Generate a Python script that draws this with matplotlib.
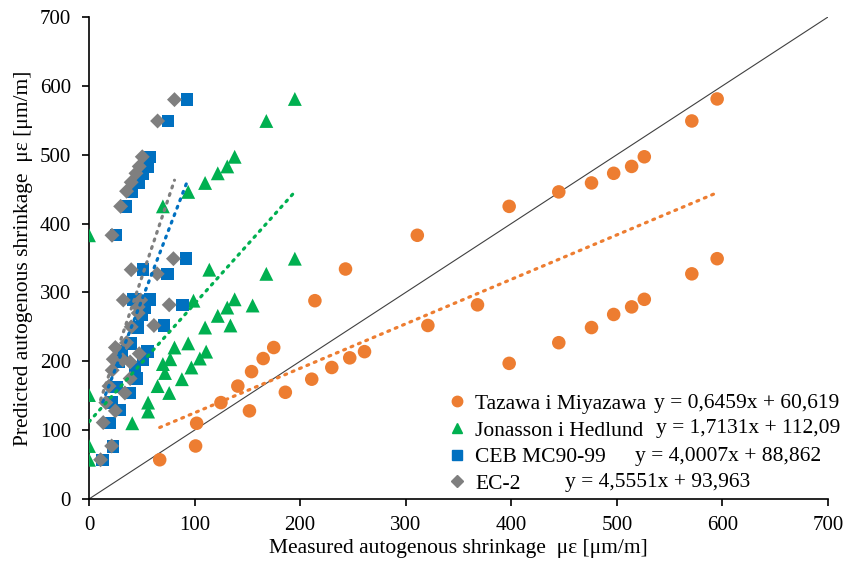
import matplotlib
matplotlib.use("Agg")
import matplotlib.pyplot as plt
from matplotlib.lines import Line2D
import numpy as np

plt.rcParams['font.family'] = ['Liberation Serif', 'DejaVu Serif']

# series names and trendline labels
names = ['Tazawa i Miyazawa', 'Jonasson i Hedlund', 'CEB MC90-99', 'EC-2']
equations = ['y = 0,6459x + 60,619', 'y = 1,7131x + 112,09',
             'y = 4,0007x + 88,862', 'y = 4,5551x + 93,963']
slopes = [0.6459, 1.7131, 4.0007, 4.5551]
intercepts = [60.619, 112.09, 88.862, 93.963]

# Tazawa i Miyazawa
taz_x = [67, 101, 102, 125, 141, 152, 154, 165, 175, 186, 211, 214, 230, 243, 247,
         261, 311, 321, 368, 398, 398, 445, 445, 476, 476, 497, 497, 514, 514,
         526, 526, 571, 571, 595, 595]
taz_y = [57, 77, 110, 140, 164, 128, 185, 204, 220, 155, 174, 288, 191, 334, 205,
         214, 383, 252, 282, 425, 197, 446, 227, 459, 249, 473, 268, 483, 279,
         497, 290, 549, 327, 581, 349]

# Jonasson i Hedlund
jon_x = [0, 0, 0, 41, 56, 56, 65, 76, 72, 70, 77, 81, 88, 94, 97, 105, 111, 110,
         122, 131, 134, 138, 155, 99, 114, 168, 195, 0, 70, 94, 110, 122, 131,
         138, 168, 195]
jon_y = [57, 77, 151, 110, 127, 140, 164, 154, 183, 196, 203, 220, 174, 226, 191,
         204, 214, 249, 266, 278, 252, 290, 281, 288, 333, 327, 349, 383, 425,
         446, 459, 473, 483, 497, 549, 581]

# CEB MC90-99
ceb_x = [13, 23, 19.5, 29, 22, 39, 26, 45, 43.5, 28.7, 51, 31, 55.5, 40, 46.6, 71,
         50.5, 53, 88.6, 42, 58, 51, 74.5, 92, 25.5, 35, 41, 47, 51, 55.5, 58,
         75, 93]
ceb_y = [57, 76, 110, 129, 140, 154, 163, 175, 192, 199, 202, 214, 214, 226, 249,
         252, 267, 277, 282, 290, 290, 333, 327, 349, 383, 425, 446, 459, 473,
         483, 497, 549, 580]

# EC-2
ec_x = [11, 21.5, 13.5, 25, 16, 34, 19, 39, 22, 39, 32, 23, 47.6, 25, 35.6, 40,
        61.5, 46.6, 46.6, 76, 32.5, 49, 40, 64.6, 80, 21.8, 30, 35.6, 40, 44.5,
        47.6, 50.5, 65, 81]
ec_y = [57, 77, 111, 128, 140, 154, 164, 175, 187, 199, 202, 203, 211, 220, 227,
        250, 252, 270, 279, 282, 289, 289, 333, 327, 349, 383, 425, 447, 460,
        473, 483, 497, 549, 580]

xs = [taz_x, jon_x, ceb_x, ec_x]
ys = [taz_y, jon_y, ceb_y, ec_y]
colors = ['#ED7D31', '#00B050', '#0070C0', '#7F7F7F']
markers = ['o', '^', 's', 'D']
sizes = [95, 100, 80, 58]

fig = plt.figure(figsize=(8.53, 5.61), dpi=100)
ax = fig.add_axes([0.1043, 0.1105, 0.8664, 0.8592])

# 1:1 line
ax.plot([0, 700], [0, 700], color='#404040', lw=0.8, zorder=1)

for i in range(4):
    ax.scatter(xs[i], ys[i], s=sizes[i], marker=markers[i], color=colors[i],
               edgecolors='none', zorder=3 + i)

# linear trendlines from the labels
for i in range(4):
    xt = np.array([min(xs[i]), max(xs[i])])
    ax.plot(xt, slopes[i] * xt + intercepts[i], color=colors[i], lw=2.3,
            linestyle=(0, (0.6, 1.9)), dash_capstyle='round', zorder=10)

ax.set_xlim(0, 700)
ax.set_ylim(0, 700)
ax.set_xticks(np.arange(0, 701, 100))
ax.set_yticks(np.arange(0, 701, 100))
ax.spines['top'].set_visible(False)
ax.spines['right'].set_visible(False)
for s in ['left', 'bottom']:
    ax.spines[s].set_linewidth(1.2)
ax.tick_params(direction='out', length=5, width=1.2, labelsize=15)
ax.tick_params(axis='y', pad=8)
ax.tick_params(axis='x', pad=7)
ax.set_xlabel('Measured autogenous shrinkage  με [μm/m]', fontsize=15.5, labelpad=3)
ax.set_ylabel('Predicted autogenous shrinkage  με [μm/m]', fontsize=15.5, labelpad=5)

handles = [Line2D([], [], marker=markers[i], color=colors[i], linestyle='none',
                  markersize=[7.5, 7.5, 7, 6][i]) for i in range(4)]
ax.legend(handles, names, loc='upper left', bbox_to_anchor=(0.486, 0.218),
          frameon=False, fontsize=15.5, handlelength=0.8, handletextpad=0.45,
          borderpad=0, borderaxespad=0, labelspacing=0.3)

# trendline equations
eq_pos = [(535, 139), (537, 102), (517, 62), (451, 24)]
for i in range(4):
    ax.text(eq_pos[i][0], eq_pos[i][1], equations[i], fontsize=15.5,
            ha='left', va='center', zorder=20)

fig.savefig('out.png', dpi=100)
